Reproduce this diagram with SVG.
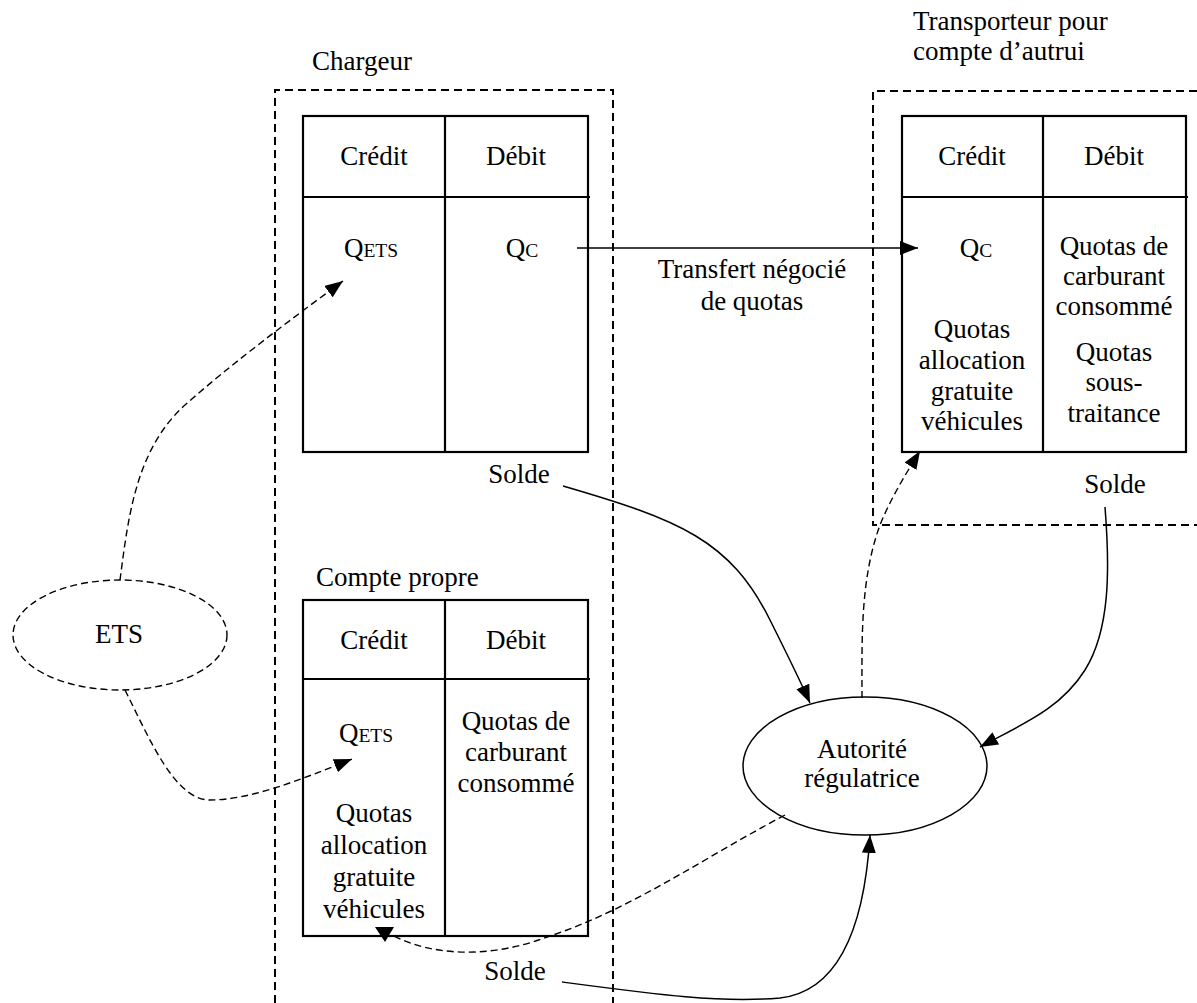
<svg xmlns="http://www.w3.org/2000/svg" width="1197" height="1003" viewBox="0 0 1197 1003">
<defs>
<style>
text{font-family:"Liberation Serif","Times New Roman",serif;font-size:27px;fill:#000}
.m{text-anchor:middle}
.sub{font-size:19.5px}
.tbl{fill:none;stroke:#000;stroke-width:2.2}
.box{fill:none;stroke:#000;stroke-width:2;stroke-dasharray:8 5}
.c{fill:none;stroke:#000;stroke-width:1.5}
.d{fill:none;stroke:#000;stroke-width:1.4;stroke-dasharray:7 4}
</style>
<marker id="ah" markerUnits="userSpaceOnUse" markerWidth="18" markerHeight="14" refX="18" refY="7" orient="auto" viewBox="0 0 18 14">
<path d="M0,0 L18,7 L0,14 z" fill="#000"/>
</marker>
</defs>
<rect width="1197" height="1003" fill="#fff"/>

<g id="chargeur">
<path class="box" d="M275,1003 V90 H613 V1003"/>
<text x="312" y="70">Chargeur</text>
</g>

<g id="transporteur">
<path class="box" d="M1197,91 H873 V525 H1197"/>
<text x="913" y="30">Transporteur pour</text>
<text x="913" y="60">compte d’autrui</text>
</g>

<g id="table-chargeur">
<rect class="tbl" x="303" y="116" width="285" height="336"/>
<line class="tbl" x1="303" y1="197" x2="590" y2="197"/>
<line class="tbl" x1="445" y1="116" x2="445" y2="452"/>
<text class="m" x="374" y="165">Crédit</text>
<text class="m" x="516" y="165">Débit</text>
<text class="m" x="371" y="257">Q<tspan class="sub">ETS</tspan></text>
<text class="m" x="522" y="257">Q<tspan class="sub">C</tspan></text>
<text class="m" x="519" y="483">Solde</text>
</g>

<g id="table-transporteur">
<rect class="tbl" x="902" y="116" width="284" height="336"/>
<line class="tbl" x1="902" y1="197" x2="1188" y2="197"/>
<line class="tbl" x1="1043" y1="116" x2="1043" y2="452"/>
<text class="m" x="972" y="165">Crédit</text>
<text class="m" x="1114" y="165">Débit</text>
<text class="m" x="976" y="257">Q<tspan class="sub">C</tspan></text>
<text class="m" x="972" y="338">Quotas</text>
<text class="m" x="972" y="369">allocation</text>
<text class="m" x="972" y="400">gratuite</text>
<text class="m" x="972" y="430">véhicules</text>
<text class="m" x="1114" y="255">Quotas de</text>
<text class="m" x="1114" y="285">carburant</text>
<text class="m" x="1114" y="315">consommé</text>
<text class="m" x="1114" y="361">Quotas</text>
<text class="m" x="1114" y="391">sous-</text>
<text class="m" x="1114" y="422">traitance</text>
<text class="m" x="1115" y="493">Solde</text>
</g>

<g id="table-compte-propre">
<text x="316" y="586">Compte propre</text>
<rect class="tbl" x="303" y="600" width="285" height="336"/>
<line class="tbl" x1="303" y1="679" x2="590" y2="679"/>
<line class="tbl" x1="445" y1="600" x2="445" y2="936"/>
<text class="m" x="374" y="649">Crédit</text>
<text class="m" x="516" y="649">Débit</text>
<text class="m" x="366" y="742">Q<tspan class="sub">ETS</tspan></text>
<text class="m" x="516" y="730">Quotas de</text>
<text class="m" x="516" y="761">carburant</text>
<text class="m" x="516" y="792">consommé</text>
<text class="m" x="374" y="822">Quotas</text>
<text class="m" x="374" y="854">allocation</text>
<text class="m" x="374" y="886">gratuite</text>
<text class="m" x="374" y="918">véhicules</text>
<text class="m" x="515" y="980">Solde</text>
</g>

<g id="ets">
<ellipse class="d" cx="120" cy="635" rx="107" ry="55"/>
<text class="m" x="119" y="643">ETS</text>
</g>

<g id="autorite">
<ellipse class="c" cx="865" cy="766" rx="122" ry="69"/>
<text class="m" x="862" y="758">Autorité</text>
<text class="m" x="862" y="787">régulatrice</text>
</g>

<g id="connectors">
<line class="c" x1="577" y1="248" x2="918" y2="248" marker-end="url(#ah)"/>
<text class="m" x="752" y="278">Transfert négocié</text>
<text class="m" x="752" y="310">de quotas</text>
<path class="d" d="M120,580 C128,520 135,450 185,405 C230,365 290,320 343,281" marker-end="url(#ah)"/>
<path class="d" d="M125,690 C150,740 175,800 210,800 C250,800 300,780 352,759" marker-end="url(#ah)"/>
<path class="c" d="M563,486 C680,520 730,540 770,620 C790,660 800,680 810,703" marker-end="url(#ah)"/>
<path class="c" d="M1105,507 C1110,570 1110,630 1085,670 C1060,710 1020,725 980,747" marker-end="url(#ah)"/>
<path class="d" d="M862,698 C862,640 860,580 880,525 C890,500 905,475 920,451" marker-end="url(#ah)"/>
<path class="c" d="M562,982 C660,995 720,1003 780,998 C850,990 866,900 870,835" marker-end="url(#ah)"/>
<path class="d" d="M785,815 C700,860 630,910 547,937 C500,955 440,960 392,935"/>
<polygon points="375,927 394,927 385,942" fill="#000"/>
</g>
</svg>
